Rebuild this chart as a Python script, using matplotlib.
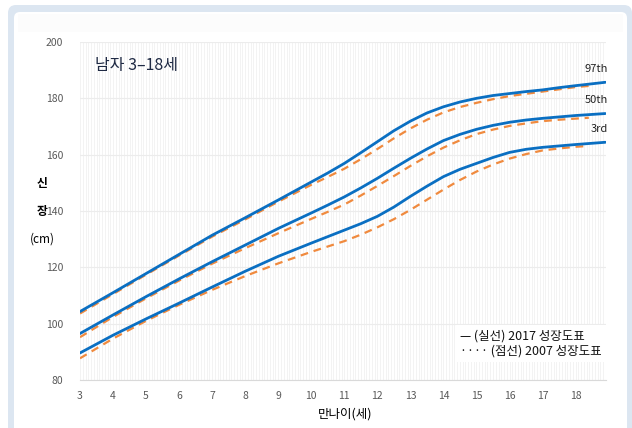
import numpy as np
import matplotlib
matplotlib.use("Agg")
import matplotlib.pyplot as plt
from matplotlib.patches import FancyBboxPatch

plt.rcParams['font.family'] = ['Noto Sans CJK KR', 'DejaVu Sans']

# ---- data ----
ages_2017 = [3, 4, 5, 6, 7, 8, 9, 10, 10.5, 11, 11.5, 12, 12.5, 13, 13.5, 14, 14.5,
             15, 15.5, 16, 16.5, 17, 17.5, 18, 18.9]
p97_2017 = [104.3, 111.0, 117.8, 124.6, 131.4, 137.6, 143.9, 150.3, 153.5, 156.9, 160.7,
            164.6, 168.5, 171.9, 174.8, 177.0, 178.7, 180.0, 181.0, 181.7, 182.4, 183.0,
            183.8, 184.5, 185.7]
p50_2017 = [96.5, 103.1, 109.6, 115.9, 122.0, 127.9, 133.8, 139.3, 142.1, 145.0, 148.2,
            151.6, 155.2, 158.7, 162.0, 165.0, 167.2, 169.0, 170.4, 171.5, 172.3, 172.9,
            173.4, 173.9, 174.6]
p3_2017 = [89.6, 95.9, 101.7, 107.3, 113.0, 118.6, 123.9, 128.6, 130.9, 133.2, 135.5,
           138.1, 141.4, 145.2, 148.8, 152.2, 154.8, 156.9, 159.0, 160.8, 161.9, 162.6,
           163.1, 163.6, 164.4]

ages_2007 = [3, 4, 5, 6, 7, 8, 9, 10, 10.5, 11, 11.5, 12, 12.5, 13, 13.5, 14, 14.5,
             15, 15.5, 16, 16.5, 17, 17.5, 18, 18.4]
p97_2007 = [103.6, 110.5, 117.4, 124.2, 130.9, 137.0, 143.3, 149.3, 152.1, 155.0, 158.4,
            162.0, 165.8, 169.3, 172.4, 175.0, 176.9, 178.4, 179.7, 180.8, 181.6, 182.4,
            183.2, 184.0, 184.4]
p50_2007 = [95.2, 102.4, 109.0, 115.3, 121.3, 126.8, 132.1, 137.2, 139.7, 142.3, 145.5,
            148.9, 152.4, 156.0, 159.4, 162.5, 165.1, 167.3, 168.9, 170.2, 171.1, 171.9,
            172.4, 172.8, 173.1]
p3_2007 = [87.7, 94.7, 101.0, 106.7, 112.0, 116.9, 121.4, 125.5, 127.4, 129.3, 131.6,
           134.2, 137.1, 140.4, 144.0, 147.6, 151.0, 154.0, 156.5, 158.6, 160.2, 161.5,
           162.2, 162.8, 163.1]

x_ticks = list(range(3, 19))
y_ticks = [80, 100, 120, 140, 160, 180, 200]
pct_labels = ["97th", "50th", "3rd"]

BLUE = "#0a6fc2"
ORANGE = "#f08a3e"

W, H = 632, 428
fig = plt.figure(figsize=(W / 100, H / 100), dpi=100)
fig.patch.set_facecolor("white")

# card frame
bg = fig.add_axes([0, 0, 1, 1], zorder=-10)
bg.set_xlim(0, W)
bg.set_ylim(H, 0)
bg.axis("off")
bg.add_patch(FancyBboxPatch((8, 5), 624, 440, boxstyle="round,pad=0,rounding_size=8",
                            fc="#dce6f1", ec="none"))
bg.add_patch(FancyBboxPatch((14, 12), 613, 430, boxstyle="round,pad=0,rounding_size=6",
                            fc="white", ec="none"))
bg.add_patch(plt.Rectangle((18, 14), 605, 18, fc="#fcfcfc", ec="none"))

ax = fig.add_axes([80 / W, 1 - 380 / H, (606 - 80) / W, (380 - 42) / H])
ax.set_facecolor("white")
ax.set_xlim(3, 18.92)
ax.set_ylim(80, 200)

# grid
ax.set_xticks(np.arange(3, 18.95, 1 / 12), minor=True)
ax.grid(True, which="minor", axis="x", color="#f1f1f1", lw=0.6)
ax.set_yticks(y_ticks)
ax.set_xticks(x_ticks)
ax.grid(True, which="major", axis="y", color="#ececec", lw=0.8)
ax.grid(True, which="major", axis="x", color="#f1f1f1", lw=0.6)
ax.tick_params(which="both", length=0)
for s in ["top", "right", "left"]:
    ax.spines[s].set_visible(False)
ax.spines["bottom"].set_color("#d9d9d9")
ax.tick_params(axis="x", labelsize=7.5, labelcolor="#595959", pad=8)
ax.tick_params(axis="y", labelsize=7.5, labelcolor="#595959", pad=12)

# curves
for ys in (p97_2007, p50_2007, p3_2007):
    ax.plot(ages_2007, ys, color=ORANGE, lw=1.6, ls=(0, (3.5, 2.6)), zorder=3)
for ys in (p97_2017, p50_2017, p3_2017):
    ax.plot(ages_2017, ys, color=BLUE, lw=2.0, zorder=4, solid_capstyle="round",
            solid_joinstyle="round")

# percentile labels
for lab, ys in zip(pct_labels, (p97_2017, p50_2017, p3_2017)):
    ax.annotate(lab, xy=(ages_2017[-1], ys[-1]), xytext=(2, 6), textcoords="offset points",
                ha="right", va="bottom", fontsize=8, color="#222222")

# title
ax.text(0.028, 0.93, "남자 3–18세", transform=ax.transAxes, fontsize=11.5,
        color="#1f2a44", va="center", ha="left")

# legend (as text)
ax.text(0.722, 0.108, "— (실선) 2017 성장도표\n···· (점선) 2007 성장도표",
        transform=ax.transAxes, fontsize=9, color="#111111", va="center", ha="left",
        linespacing=1.2,
        bbox=dict(fc="white", ec="none", pad=3))

# axis labels
fig.text(42 / W, 1 - 183 / H, "신", fontsize=8.5, fontweight="bold", ha="center", va="center")
fig.text(42 / W, 1 - 211 / H, "장", fontsize=8.5, fontweight="bold", ha="center", va="center")
fig.text(42 / W, 1 - 239 / H, "(cm)", fontsize=8.5, ha="center", va="center")
fig.text(345 / W, 1 - 414 / H, "만나이(세)", fontsize=9, ha="center", va="center")

fig.savefig("out.png", dpi=100, facecolor=fig.get_facecolor())
